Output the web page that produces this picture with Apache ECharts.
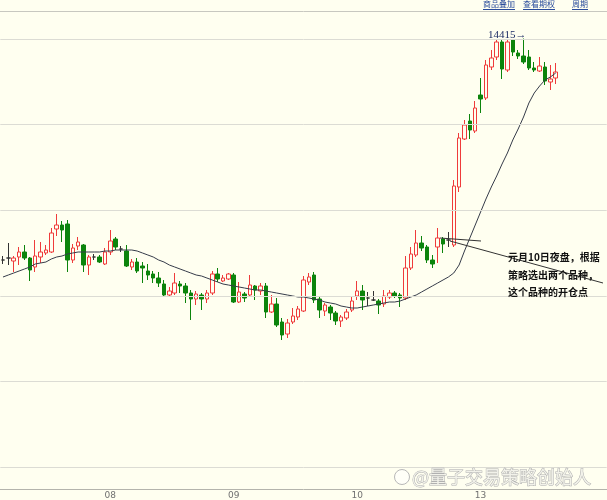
<!DOCTYPE html>
<html>
<head>
<meta charset="utf-8">
<script src="https://cdn.jsdelivr.net/npm/echarts@6/dist/echarts.min.js"></script>
<style>
  html, body { margin: 0; padding: 0; background: #fffff0; }
  #chart { width: 607px; height: 500px; }
</style>
</head>
<body>
<div id="chart"></div>
<script>
// 日期刻度
const dayLabels = ['08', '09', '10', '13'];
const dayFirstBar = [20, 43, 66, 89];

// K线 (开 / 收 / 低 / 高)
const openP = [
  13972, 13976, 13970, 13978, 13988, 13976, 13958, 13978, 13986, 13988,
  14034, 14042, 14044, 13972, 14000, 14002, 13962, 13978, 13978, 13964,
  13988, 14014, 13994, 13990, 13958, 13968, 13960, 13950, 13944, 13936,
  13924, 13902, 13906, 13924, 13920, 13906, 13894, 13902, 13894, 13906,
  13944, 13930, 13934, 13942, 13888, 13904, 13902, 13920, 13910, 13920,
  13868, 13884, 13848, 13824, 13848, 13858, 13870, 13928, 13942, 13894,
  13870, 13878, 13866, 13850, 13856, 13872, 13900, 13910, 13896, 13892,
  13890, 13884, 13898, 13906, 13902, 13896, 13956, 13982, 14006, 13998,
  13972, 13998, 14014, 14012, 14002, 14118, 14214, 14250, 14230, 14302,
  14296, 14358, 14378, 14408, 14352, 14412, 14386, 14380, 14378, 14356,
  14350, 14358, 14328, 14336
];
const closeP = [
  13972, 13976, 13976, 13988, 13976, 13952, 13980, 13988, 13992, 14026,
  14042, 14032, 13972, 13996, 14008, 13962, 13978, 13978, 13968, 13988,
  14010, 13998, 13994, 13960, 13968, 13950, 13956, 13942, 13936, 13926,
  13902, 13910, 13926, 13920, 13906, 13894, 13904, 13894, 13906, 13944,
  13934, 13936, 13944, 13888, 13908, 13896, 13922, 13912, 13920, 13868,
  13884, 13842, 13822, 13846, 13860, 13874, 13932, 13938, 13892, 13872,
  13882, 13866, 13850, 13858, 13868, 13890, 13910, 13892, 13896, 13892,
  13882, 13900, 13906, 13900, 13896, 13956, 13984, 14006, 13996, 13972,
  13964, 14016, 14004, 14012, 14120, 14216, 14242, 14232, 14276, 14294,
  14362, 14376, 14408, 14354, 14408, 14388, 14380, 14368, 14356, 14352,
  14360, 14330, 14334, 14348
];
const lowP = [
  13964, 13962, 13948, 13962, 13972, 13930, 13948, 13966, 13982, 13986,
  14020, 14008, 13948, 13966, 13992, 13948, 13942, 13972, 13966, 13962,
  13982, 13992, 13988, 13958, 13952, 13946, 13926, 13932, 13926, 13918,
  13898, 13898, 13902, 13906, 13886, 13852, 13882, 13872, 13886, 13902,
  13928, 13928, 13932, 13886, 13886, 13888, 13900, 13892, 13902, 13856,
  13866, 13838, 13812, 13816, 13844, 13852, 13868, 13922, 13886, 13856,
  13860, 13852, 13842, 13838, 13852, 13868, 13892, 13872, 13880, 13890,
  13864, 13878, 13894, 13896, 13878, 13892, 13952, 13978, 13990, 13966,
  13956, 13966, 13986, 13998, 13998, 14108, 14212, 14214, 14226, 14266,
  14292, 14352, 14372, 14334, 14348, 14380, 14374, 14364, 14352, 14348,
  14348, 14322, 14312, 14324
];
const highP = [
  13980, 14006, 13980, 13998, 14002, 13978, 14012, 14008, 14002, 14036,
  14064, 14050, 14052, 14004, 14018, 14004, 13982, 13984, 13982, 13996,
  14032, 14018, 14000, 14002, 13974, 13976, 13968, 13964, 13950, 13948,
  13932, 13918, 13946, 13930, 13926, 13912, 13910, 13906, 13912, 13950,
  13956, 13942, 13946, 13946, 13928, 13908, 13942, 13922, 13926, 13926,
  13902, 13896, 13856, 13854, 13876, 13880, 13940, 13946, 13948, 13898,
  13886, 13882, 13870, 13862, 13874, 13898, 13930, 13922, 13908, 13910,
  13894, 13912, 13912, 13910, 13906, 13980, 13998, 14032, 14020, 14002,
  13982, 14036, 14018, 14028, 14132, 14226, 14252, 14264, 14290, 14336,
  14372, 14392, 14412, 14412, 14412, 14414, 14392, 14415, 14392, 14368,
  14378, 14368, 14362, 14366
];

// 均线
const maLine = [
  13938, 13942, 13946, 13950, 13954, 13958, 13964, 13966, 13968, 13974,
  13978, 13980, 13984, 13986, 13988, 13988, 13988, 13988, 13988, 13990,
  13990, 13992, 13992, 13992, 13992, 13990, 13986, 13982, 13978, 13972,
  13968, 13962, 13958, 13954, 13950, 13946, 13942, 13940, 13936, 13932,
  13928, 13924, 13922, 13920, 13918, 13916, 13914, 13912, 13912, 13910,
  13908, 13906, 13904, 13902, 13900, 13898, 13898, 13896, 13894, 13892,
  13888, 13886, 13884, 13880, 13878, 13876, 13876, 13878, 13880, 13882,
  13884, 13886, 13888, 13888, 13890, 13894, 13898, 13902, 13908, 13914,
  13920, 13926, 13932, 13938, 13946, 13962, 13990, 14016, 14042, 14068,
  14094, 14118, 14140, 14164, 14186, 14212, 14234, 14258, 14286, 14306,
  14320, 14332, 14338, 14346
];

// 水平网格线所在价位
const gridLevels = [14414, 14244, 14072, 13900, 13730, 13558];

const slotCount = 113; // 右侧留空
const slots = Array.from({ length: slotCount }, (_, i) => 'b' + i);
const candles = openP.map((o, i) => [o, closeP[i], lowP[i], highP[i]]);

const BG = '#fffff0';
const LINK = '#2a4c9c';
const chart = echarts.init(document.getElementById('chart'));

const linkText = (x, text) => ({
  type: 'text', x: x, y: 4,
  style: { text: text, font: '8px "Noto Sans CJK SC"', fill: LINK, verticalAlign: 'middle', textVerticalAlign: 'middle' }
});
const noteText = (y, text) => ({
  type: 'text', z: 11, x: 508, y: y,
  style: { text: text, font: 'bold 10px "Noto Sans CJK SC"', fill: '#111', verticalAlign: 'middle', textVerticalAlign: 'middle' }
});

const option = {
  backgroundColor: BG,
  animation: false,
  grid: { left: 0, top: 11, width: 609, height: 478 },
  xAxis: [
    {
      type: 'category',
      data: slots,
      boundaryGap: true,
      axisLine: { lineStyle: { color: '#b4b4ac', width: 1 } },
      axisTick: { show: false },
      splitLine: { show: false },
      axisLabel: {
        interval: 0,
        margin: 2,
        fontSize: 9,
        color: '#707070',
        fontFamily: 'DejaVu Sans',
        formatter: (v, i) => {
          const d = dayFirstBar.indexOf(i);
          return d >= 0 ? dayLabels[d] : '';
        }
      }
    },
    {
      type: 'category',
      data: slots,
      position: 'top',
      axisLine: { lineStyle: { color: '#c8c8c0', width: 1 } },
      axisTick: { show: false },
      axisLabel: { show: false }
    }
  ],
  yAxis: {
    type: 'value',
    min: 13514,
    max: 14470,
    show: false
  },
  series: [
    {
      name: 'grid',
      type: 'line',
      data: [],
      z: 1,
      markLine: {
        silent: true,
        symbol: 'none',
        animation: false,
        label: { show: false },
        lineStyle: { color: '#dcdcd4', width: 1, type: 'solid' },
        data: gridLevels.map(v => ({ yAxis: v }))
      }
    },
    {
      name: 'K',
      type: 'candlestick',
      data: candles,
      barWidth: 4,
      z: 2,
      itemStyle: {
        color: BG,
        color0: '#0c840c',
        borderColor: '#ef3b3b',
        borderColor0: '#0c840c',
        borderColorDoji: '#333333',
        borderWidth: 1
      },
      markPoint: {
        symbol: 'circle',
        symbolSize: 0,
        animation: false,
        data: [{ type: 'max', valueDim: 'highest' }],
        label: {
          show: true,
          position: 'left',
          distance: 0,
          offset: [3, -3],
          formatter: p => p.value + '→',
          color: '#1c2c64',
          fontSize: 11,
          fontFamily: 'Liberation Serif'
        }
      }
    },
    {
      name: 'MA',
      type: 'line',
      data: maLine,
      symbol: 'none',
      z: 3,
      lineStyle: { color: '#363c4a', width: 1 }
    }
  ],
  graphic: [
    // 顶部链接
    linkText(483, '商品叠加'),
    linkText(523, '查看期权'),
    linkText(572, '周期'),
    { type: 'line', shape: { x1: 483, y1: 9.5, x2: 515, y2: 9.5 }, style: { stroke: LINK, lineWidth: 1 } },
    { type: 'line', shape: { x1: 523, y1: 9.5, x2: 555, y2: 9.5 }, style: { stroke: LINK, lineWidth: 1 } },
    { type: 'line', shape: { x1: 572, y1: 9.5, x2: 588, y2: 9.5 }, style: { stroke: LINK, lineWidth: 1 } },

    // 开仓标记线
    { type: 'line', z: 10, shape: { x1: 440, y1: 238, x2: 481, y2: 241 }, style: { stroke: '#333', lineWidth: 1 } },
    { type: 'line', z: 10, shape: { x1: 450, y1: 241, x2: 603, y2: 283 }, style: { stroke: '#333', lineWidth: 1 } },

    // 注释
    noteText(257, '元月10日夜盘，根据'),
    noteText(275, '策略选出两个品种，'),
    noteText(292, '这个品种的开仓点'),

    // 水印
    { type: 'circle', z: 12, shape: { cx: 402, cy: 477, r: 7.5 }, style: { fill: 'rgba(255,255,255,0.5)', stroke: '#b8b8b8', lineWidth: 1 } },
    { type: 'text', z: 12, x: 412, y: 477, style: { text: '@量子交易策略创始人', font: '18px "Noto Sans CJK SC"', fill: '#f2f2ea', stroke: '#b0b0b0', lineWidth: 1, verticalAlign: 'middle', textVerticalAlign: 'middle' } }
  ]
};

chart.setOption(option);
window.addEventListener('resize', () => chart.resize());
</script>
</body>
</html>
